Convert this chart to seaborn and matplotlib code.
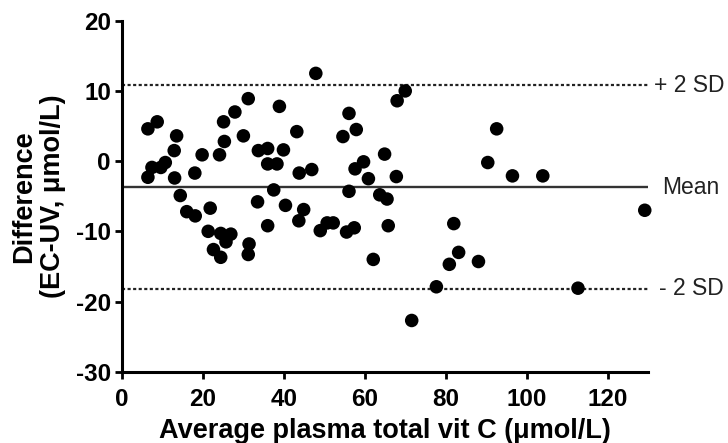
import numpy as np
import pandas as pd
import matplotlib
matplotlib.use("Agg")
import matplotlib.pyplot as plt
import seaborn as sns

# Data
avg_vitc = [6.4, 8.7, 6.4, 7.4, 9.6, 10.7, 13.5, 12.9, 13.0, 14.4,
            16.0, 18.1, 18.0, 19.8, 21.8, 21.3, 24.1, 25.3, 25.1, 27.9,
            30.0, 31.2, 24.4, 26.9, 25.7, 22.6, 24.4, 31.4, 31.2, 33.7,
            36.0, 36.0, 38.3, 37.5, 33.5, 36.0, 38.9, 39.9, 40.4, 43.2,
            43.8, 46.9, 44.9, 43.7, 47.9, 49.0, 50.7, 52.2, 55.5, 57.4,
            56.1, 54.6, 57.9, 57.6, 59.7, 60.9, 56.1, 63.7, 65.5, 64.9,
            67.8, 68.0, 70.0, 65.8, 62.1, 82.0, 83.2, 80.9, 88.1, 77.7,
            71.6, 92.6, 90.4, 96.5, 104.0, 129.2, 112.7]
difference = [4.6, 5.6, -2.3, -0.9, -0.9, -0.2, 3.6, 1.5, -2.4, -4.9,
              -7.2, -7.8, -1.7, 0.9, -6.7, -10.0, 0.9, 2.8, 5.6, 7.0,
              3.6, 8.9, -10.3, -10.4, -11.5, -12.6, -13.7, -11.8, -13.3, 1.5,
              1.8, -0.4, -0.4, -4.1, -5.8, -9.2, 7.8, 1.6, -6.3, 4.2,
              -1.7, -1.2, -6.9, -8.5, 12.5, -9.9, -8.8, -8.8, -10.1, -9.5,
              6.8, 3.5, 4.5, -1.1, -0.1, -2.5, -4.3, -4.8, -5.4, 1.0,
              -2.2, 8.6, 10.0, -9.2, -14.0, -8.9, -13.0, -14.7, -14.3, -17.9,
              -22.7, 4.6, -0.2, -2.1, -2.1, -7.0, -18.1]

bias_mean = -3.7
upper_loa = 10.8
lower_loa = -18.2
line_labels = ["+ 2 SD", "Mean", "- 2 SD"]

x_ticks = [0, 20, 40, 60, 80, 100, 120]
y_ticks = [-30, -20, -10, 0, 10, 20]
x_label = "Average plasma total vit C (\u03bcmol/L)"
y_label = "Difference\n(EC-UV, \u03bcmol/L)"

df = pd.DataFrame({"avg": avg_vitc, "diff": difference})

sns.set_theme(style="ticks")
plt.rcParams["font.family"] = ["Liberation Sans", "DejaVu Sans"]
plt.rcParams["axes.unicode_minus"] = False
plt.rcParams["text.color"] = "black"
plt.rcParams["axes.labelcolor"] = "black"
plt.rcParams["xtick.color"] = "black"
plt.rcParams["ytick.color"] = "black"

fig = plt.figure(figsize=(7.28, 4.43), dpi=100)
ax = fig.add_axes([0.1676, 0.1609, 0.7225, 0.7923])

sns.scatterplot(data=df, x="avg", y="diff", ax=ax, color="black",
                s=95, edgecolor="none", linewidth=0, zorder=3, clip_on=False)

ax.set_xlim(0, 130)
ax.set_ylim(-30, 20)

ax.axhline(bias_mean, color="#333333", lw=1.7, zorder=2)
for yv in (upper_loa, lower_loa):
    ax.axhline(yv, color="#222222", lw=1.6, ls=(0, (1.4, 1.1)), zorder=2)

txt_kw = dict(xycoords=("axes fraction", "data"), textcoords="offset points",
              va="center", ha="left", fontsize=16.5, color="#222222",
              annotation_clip=False)
ax.annotate(line_labels[0], xy=(1.0, upper_loa), xytext=(4, 0), **txt_kw)
ax.annotate(line_labels[1], xy=(1.0, bias_mean), xytext=(10, 0), **txt_kw)
ax.annotate(line_labels[2], xy=(1.0, lower_loa), xytext=(8, 0), **txt_kw)

ax.set_xticks(x_ticks)
ax.set_yticks(y_ticks)
ax.tick_params(axis="both", labelsize=17.5, width=2, length=5, color="black",
               labelcolor="black")
ax.tick_params(axis="x", pad=7)
ax.tick_params(axis="y", pad=3)
for lab in ax.get_xticklabels() + ax.get_yticklabels():
    lab.set_fontweight("bold")

ax.set_xlabel(x_label, fontsize=19.5, fontweight="bold", labelpad=5)
ax.set_ylabel(y_label, fontsize=19.5, fontweight="bold", labelpad=7,
              linespacing=1.15)

sns.despine(ax=ax)
for side in ("left", "bottom"):
    ax.spines[side].set_linewidth(2.2)
    ax.spines[side].set_color("black")

fig.savefig("out.png", dpi=100, facecolor="white")
